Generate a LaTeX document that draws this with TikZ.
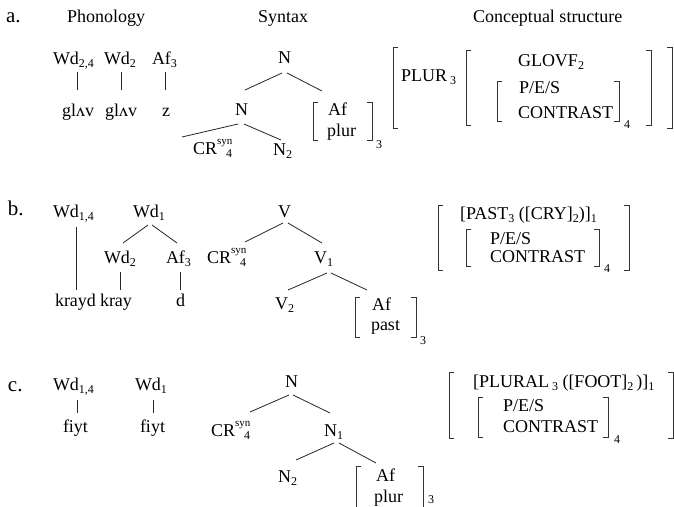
\documentclass[tikz,border=0pt]{standalone}
\usepackage{fontspec}
\setmainfont{Liberation Serif}
\usetikzlibrary{calc}
\newcommand\sbs[1]{{\fontsize{12}{12}\selectfont\raisebox{-0.3em}{#1}}}
\newcommand\crsyn{CR\rlap{\fontsize{11}{11}\selectfont\raisebox{10pt}{syn}}\hspace{9pt}{\fontsize{12}{12}\selectfont\raisebox{-3pt}{4}}}
\newcommand\LB[3]{\draw[brk] (#1+5,#2) -- (#1,#2) -- (#1,#3) -- (#1+5,#3);}
\newcommand\RB[3]{\draw[brk] (#1-5,#2) -- (#1,#2) -- (#1,#3) -- (#1-5,#3);}
\begin{document}
\begin{tikzpicture}[x=1pt,y=-1pt,
  txt/.style={inner sep=0pt, outer sep=0pt, anchor=base west, font=\fontsize{18}{20}\selectfont},
  lbl/.style={txt, font=\fontsize{21}{22}\selectfont},
  edge/.style={line width=0.8pt, draw=black!85},
  brk/.style={line width=0.8pt, draw=black!80}]
\clip (0,0) rectangle (674,506);
\fill[white] (0,0) rectangle (674,506);
% ---------- headers ----------
\node[lbl] (aLab) at (6,22) {a.};
\node[txt] (hPh) at (67,22) {Phonology};
\node[txt] (hSy) at (258,22) {Syntax};
\node[txt] (hCS) at (473,22) {Conceptual structure};
% ---------- a: phonology ----------
\node[txt] (aW1) at (53,64) {Wd\sbs{2,4}};
\node[txt] (aW2) at (104,64) {Wd\sbs{2}};
\node[txt] (aA3) at (152,64) {Af\sbs{3}};
\node[txt] (aG1) at (62,116) {glʌv};
\node[txt] (aG2) at (105,116) {glʌv};
\node[txt] (aZ) at (162,116) {z};
\draw[edge] ($(aW1.base west)+(24,8)$) -- ($(aG1.base west)+(15,-26)$);
\draw[edge] ($(aW2.base west)+(17,8)$) -- ($(aG2.base west)+(16,-26)$);
\draw[edge] ($(aA3.base west)+(13,8)$) -- ($(aZ.base west)+(3,-26)$);
% ---------- a: syntax ----------
\node[txt] (aN) at (278,63) {N};
\node[txt] (aNm) at (235,115) {N};
\node[txt] (aCR) at (193,154) {\crsyn};
\node[txt] (aN2) at (273,155) {N\sbs{2}};
\node[txt] (aAf) at (328,115) {Af};
\node[txt] (aPl) at (327,136) {plur};
\node[txt] (aS3) at (376,145) {\sbs{3}};
\LB{313}{102}{140}
\RB{372}{102}{140}
\draw[edge] ($(aN.base west)+(4,10)$) -- ($(aNm.base west)+(10,-25)$);
\draw[edge] ($(aN.base west)+(9,10)$) -- ($(aAf.base west)+(-6,-24)$);
\draw[edge] ($(aNm.base west)+(3,9)$) -- ($(aCR.base west)+(-11,-17)$);
\draw[edge] ($(aNm.base west)+(9,9)$) -- ($(aN2.base west)+(8,-15)$);
% ---------- a: conceptual ----------
\node[txt] (aPLUR) at (401,81) {PLUR\,\sbs{3}};
\node[txt] (aGL) at (518,66) {GLOVF\sbs{2}};
\node[txt] (aPES) at (519,93) {P/E/S};
\node[txt] (aCON) at (518,118) {CONTRAST};
\node[txt] (aS4) at (624,125) {\sbs{4}};
\LB{393}{47}{128}
\RB{672}{47}{128}
\LB{466}{50}{125}
\RB{651}{50}{125}
\LB{497}{81}{121}
\RB{619}{81}{121}
% ---------- b: phonology ----------
\node[lbl] (bLab) at (8,215) {b.};
\node[txt] (bW14) at (53,217) {Wd\sbs{1,4}};
\node[txt] (bW1) at (133,217) {Wd\sbs{1}};
\node[txt] (bW2) at (104,263) {Wd\sbs{2}};
\node[txt] (bA3) at (166,263) {Af\sbs{3}};
\node[txt] (bK1) at (55,306) {krayd};
\node[txt] (bK2) at (100,306) {kray};
\node[txt] (bD) at (176,306) {d};
\draw[edge] ($(bW14.base west)+(23,10)$) -- ($(bK1.base west)+(21,-16)$);
\draw[edge] ($(bW2.base west)+(16,9)$) -- ($(bK2.base west)+(20,-16)$);
\draw[edge] ($(bA3.base west)+(14,9)$) -- ($(bD.base west)+(4,-16)$);
\draw[edge] ($(bW1.base west)+(15,8)$) -- ($(bW2.base west)+(19,-20)$);
\draw[edge] ($(bW1.base west)+(19,8)$) -- ($(bA3.base west)+(11,-20)$);
% ---------- b: syntax ----------
\node[txt] (bCR) at (207,263) {\crsyn};
\node[txt] (bV) at (278,217) {V};
\node[txt] (bV1) at (314,263) {V\sbs{1}};
\node[txt] (bV2) at (275,309) {V\sbs{2}};
\node[txt] (bAf) at (372,310) {Af};
\node[txt] (bPa) at (371,330) {past};
\node[txt] (bS3) at (420,341) {\sbs{3}};
\LB{355}{297}{337}
\RB{416}{297}{337}
\draw[edge] ($(bV.base west)+(5,6)$) -- ($(bCR.base west)+(38,-21)$);
\draw[edge] ($(bV.base west)+(10,6)$) -- ($(bV1.base west)+(8,-20)$);
\draw[edge] ($(bV1.base west)+(13,10)$) -- ($(bV2.base west)+(13,-19)$);
\draw[edge] ($(bV1.base west)+(17,10)$) -- ($(bAf.base west)+(-5,-20)$);
% ---------- b: conceptual ----------
\node[txt] (bPAST) at (460,219) {[PAST\sbs{3} ([CRY]\sbs{2})]\sbs{1}};
\node[txt] (bPES) at (490,244) {P/E/S};
\node[txt] (bCON) at (490,262) {CONTRAST};
\node[txt] (bS4) at (604,269) {\sbs{4}};
\LB{438}{205}{270}
\RB{629}{205}{270}
\LB{466}{229}{266}
\RB{599}{229}{266}
% ---------- c: phonology ----------
\node[lbl] (cLab) at (8,391) {c.};
\node[txt] (cW14) at (53,390) {Wd\sbs{1,4}};
\node[txt] (cW1) at (135,390) {Wd\sbs{1}};
\node[txt] (cF1) at (63,432) {fiyt};
\node[txt] (cF2) at (140,432) {fiyt};
\draw[edge] ($(cW14.base west)+(24,10)$) -- ($(cF1.base west)+(14,-19)$);
\draw[edge] ($(cW1.base west)+(18,10)$) -- ($(cF2.base west)+(13,-19)$);
% ---------- c: syntax ----------
\node[txt] (cN) at (285,387) {N};
\node[txt] (cCR) at (211,436) {\crsyn};
\node[txt] (cN1) at (324,436) {N\sbs{1}};
\node[txt] (cN2) at (278,482) {N\sbs{2}};
\node[txt] (cAf) at (376,481) {Af};
\node[txt] (cPl) at (374,502) {plur};
\node[txt] (cS3) at (428,500) {\sbs{3}};
\LB{356}{466}{515}
\RB{423}{466}{515}
\draw[edge] ($(cN.base west)+(4,8)$) -- ($(cCR.base west)+(39,-24)$);
\draw[edge] ($(cN.base west)+(8,8)$) -- ($(cN1.base west)+(6,-23)$);
\draw[edge] ($(cN1.base west)+(10,7)$) -- ($(cN2.base west)+(18,-22)$);
\draw[edge] ($(cN1.base west)+(15,7)$) -- ($(cAf.base west)+(0,-18)$);
% ---------- c: conceptual ----------
\node[txt] (cPL) at (473,387) {[PLURAL\,\sbs{3} ([FOOT]\sbs{2}\,)]\sbs{1}};
\node[txt] (cPES) at (503,411) {P/E/S};
\node[txt] (cCON) at (503,432) {CONTRAST};
\node[txt] (cS4) at (614,440) {\sbs{4}};
\LB{449}{372}{438}
\RB{673}{372}{438}
\LB{478}{397}{437}
\RB{608}{397}{437}
\end{tikzpicture}
\end{document}
